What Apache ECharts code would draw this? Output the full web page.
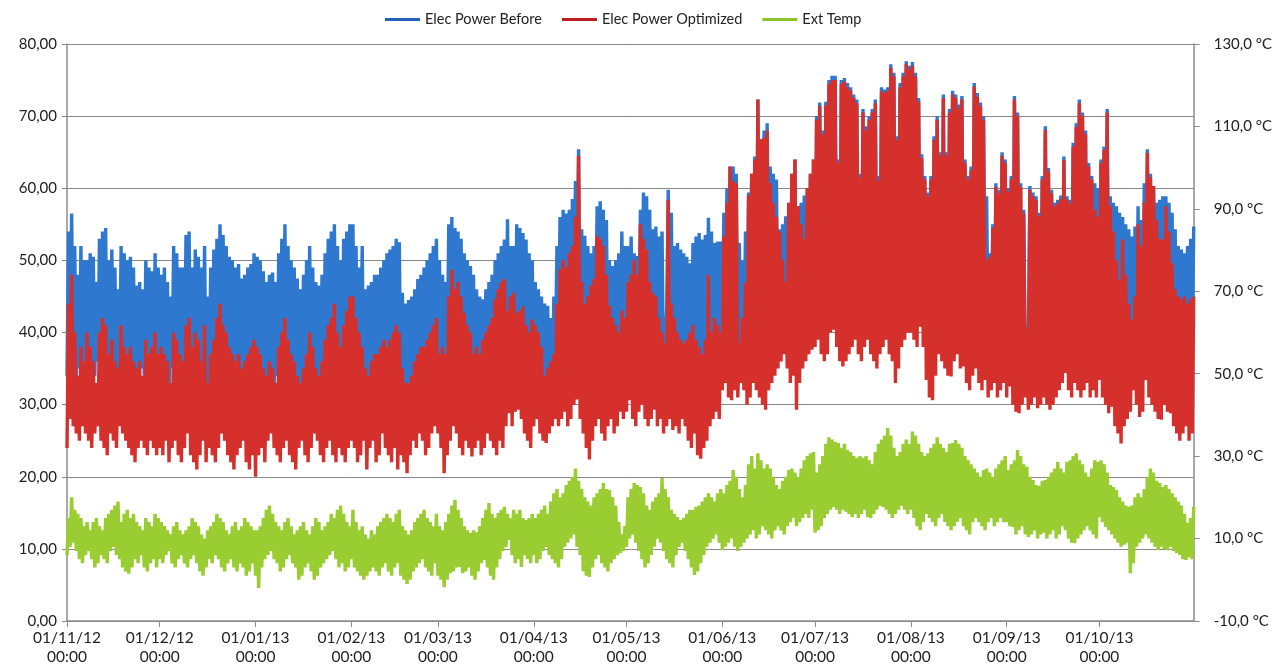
<!DOCTYPE html>
<html>
<head>
<meta charset="utf-8">
<script src="https://cdn.jsdelivr.net/npm/echarts@6/dist/echarts.min.js"></script>
<style>
html,body{margin:0;padding:0;background:#fff;}
#chart{width:1275px;height:666px;}
</style>
</head>
<body>
<div id="chart"></div>
<script>
// ---- Data (daily envelopes, 01/11/12 .. 31/10/13) ----
const startDate = [2012, 10, 1];
const monthTickLabels = ['01/11/12','01/12/12','01/01/13','01/02/13','01/03/13','01/04/13','01/05/13','01/06/13','01/07/13','01/08/13','01/09/13','01/10/13'];
const seriesNames = ['Elec Power Before','Elec Power Optimized','Ext Temp'];

// Elec Power Before: daily high
const beforeHigh = [
54,56.5,52,48,52,50,50,51,50.5,47,53,54,54.5,50,51.5,49,46,52,51,50,50.5,49,46.5,47,46,50,49,48.5,51,49,
48,49,47,45,52,51,49,49,53.5,54,49,51.5,50.5,49,52,45,49,51.5,53,55,53.5,52,50.5,50,49,49.5,47.5,48,49,49.5,51,
50.5,50,48.5,47,48,48.3,47,51,53,55,52,50,49,47.5,46,48,50,52,49,47,46.5,48,51,53,54,55,52,50,53,54,55,
55,52,49,52,46,46.5,47,48,48,49,50,51,51.5,52,53,52.5,45.5,44,44.5,45,46,47.4,48,49,50,51,52,53,
50,48,47,55,56,54.5,54,53,51,50,49.2,48,46,45,44.6,46,47,48,50,51,52,52.9,55.7,52,52,55,54.5,53.8,52.9,51,50,
47,46,45,44,43.7,42,45,52,56,57,56.5,57,58.5,61,65.4,54.3,53.4,52,51,52,57.5,58.2,57,55.6,50,49.2,50,51,54,52,
52,53.3,51,50.6,57,59.4,58.9,57,54.3,54.7,53.3,54,39,59.8,56.6,52,52.4,51.5,51,50.5,49.6,52.4,53.3,53.8,52.9,53.5,55.9,54,52.4,52.6,52.6,
56.6,60,63,63,62,52.4,50,54,59.4,62,64.4,72.3,66.8,68,69,63,62,61.2,54.3,55,56.1,58,62,64,57.5,58,59,60,62,64,
70,71.9,68,72,75,75.6,75.6,64,75,75.3,74.6,74,73,72.3,62,71,68.6,70,71,72.3,61.7,74,73.7,74,77.2,76,67.2,74.6,76,77.6,77,
77.5,76,72.5,64.7,61.7,59.4,61.7,67.2,70,65,73,65,71,73.5,73,71.6,72.8,64,61.7,63,74.6,73.2,71.9,70,58.9,51,55,60.7,59.8,65,64,
60,61.7,72.8,70.5,60.7,57,41,60.3,59.4,58.9,56.6,61.7,68.6,62.8,59.8,58,58.4,59,64.4,58.9,58.4,66.3,69,72.3,70.5,68,63.5,61.7,60.7,60,
64,65.8,71,58.9,58,57.5,56.6,56,55,54.3,53.3,54.7,57.5,55.6,60.7,65.4,62,60.3,58,58.4,58.9,58.9,58,56.6,54.3,52,51.5,51,52,53,54.7
];
// Elec Power Before: daily low
const beforeLow = [
34,36,35,33,35,36,34,33,35,34,36,35,34,33,35,36,34,33,35,34,33,32,34,33,35,34,33,34,35,33,
33,34,33,31,35,34,33,32,35,36,33,34,33,32,34,31,33,34,35,36,35,34,33,32,33,34,32,33,34,33,35,
33,34,32,31,33,33,32,34,35,36,34,33,33,32,31,33,34,35,33,32,31,33,34,35,36,37,34,33,35,36,37,
34,33,32,33,31,30,32,33,33,34,34,33,34,35,35,34,31,30,30,31,32,33,34,33,34,35,35,36,
33,32,31,36,38,37,36,35,34,33,33,32,31,31,30,31,32,33,34,35,36,37,36,35,36,37,37,36,35,34,34,
34,33,32,30,30,31,32,36,39,41,40,42,43,45,48,38,37,36,35,36,41,42,41,39,36,35,35,36,38,37,
36,37,36,35,41,42,40,38,37,37,35,36,33,43,38,36,35,35,34,34,33,35,35,36,35,35,38,36,36,36,35,
40,42,43,42,41,38,37,38,42,43,44,46,45,44,44,43,42,41,40,41,42,43,45,46,42,43,44,45,46,47,
45,46,44,44,46,47,47,44,45,44,45,46,46,47,44,45,46,46,45,45,43,46,46,47,47,46,44,46,47,48,48,
46,46,46,45,43,40,39,40,43,44,44,43,43,43,44,44,44,42,41,41,44,44,42,41,40,38,39,40,40,41,41,
39,40,42,41,39,38,36,39,39,39,38,40,42,41,39,39,39,39,41,40,39,41,42,43,42,41,40,39,38,38,
40,41,42,38,37,36,35,34,35,34,34,35,38,37,38,42,40,39,37,37,37,38,37,36,35,34,34,34,35,35,36
];
// Elec Power Optimized: daily high
const optHigh = [
44,48,40,34,38,36,40,38,36,33,40,42,41,37,39,36,35,41,38,37,38,36,35,36,34,39,37,38,40,37,
38,37,36,33,40,39,37,36,41,42,38,40,39,36,41,33,37,39,42,44,41,40,38,37,36,37,35,36,37,38,39,
38,37,35,34,36,35,33,38,40,42,39,37,36,34,33,35,37,40,38,35,34,36,39,41,42,44,40,38,41,43,45,
45,42,40,38,35,34,36,37,37,38,39,38,39,40,41,40,35,33,33,34,36,37,38,38,39,40,41,42,
37,38,37,45,48.7,46,47,45,42.7,41,40,37,38,37,39,40,41,42,44.6,46,47,47.4,43,45,45.5,42.7,43,43.6,41,40,41.8,
41,40,38,34,35,36,37,44,48.7,50,49,51,52,56,64.5,47,44,45,46.5,47.4,53.4,53,52,48,43.7,42,41,40,43,42,
47,48,50,48,55,53,51.5,47,45.5,45,42,40,38.5,58.4,44,42,40,39,38.5,39,40,41,39,38,37,39,48,40,42,41,40,
53.3,58,63,61,60.7,38.5,42,46.9,59,62,64,72.3,66.8,67,68,60.7,58,56,54,50,47,58,62,64,57.5,55,53,60,62,64,
69.5,71.4,67.5,71.5,74.5,75,75,63.5,74.5,74.8,74,73.5,72.5,71.8,61.5,70.5,68,69.5,70.5,71.8,61,73.5,73.2,73.5,76.7,75.5,66.7,74,75.5,77.2,76.5,
77,75.5,72,64.2,61.2,58.9,61.2,66.7,69.5,64.5,72.5,64.5,70.5,73,72.5,71.1,72.3,63.5,61.2,62.5,74.1,72.7,71.4,69.5,50,50.5,54.5,60.2,59.3,64.5,63.5,
59.5,61.2,72.3,70,60.2,56.5,40.5,59.8,58.9,58.4,56.1,61.2,68.1,62.3,59.3,57.5,57.9,58.5,63.9,58.4,57.9,65.8,68.5,71.8,70,67.5,63,61.2,57,56,
63.5,65.3,70.5,57.5,54,50,47.3,52.9,48,44,41.8,45,55,52,58,64.9,61.5,60.3,55.6,53,52.9,57.5,54,49.6,46,45,44.6,45,44,44.6,45
];
// Elec Power Optimized: daily low
const optLow = [
24,28,27,26,25,27,26,25,24,26,27,25,24,23,26,25,24,27,26,25,24,23,22,24,25,24,23,25,24,23,
24,23,25,22,24,25,23,22,24,26,23,22,21,23,25,22,24,23,22,24,26,25,23,22,21,23,24,25,22,21,23,
20,23,24,22,25,26,24,23,22,24,25,23,22,21,24,25,23,22,24,26,25,23,22,24,25,23,22,24,23,22,24,
25,24,22,23,25,21,24,25,22,23,26,24,23,22,24,21,23,22,20.5,23,25,24,26,25,23,24,26,27,
26,24,20.5,23,25,27,26,24,23,25,24,22.8,24,25,23,24,26,25,24,23,25,24,27,28.8,27,29,29.3,28,26,25,24,
27,28,26,25,24.7,26,27,28,27,28,29,27,28,30,30.7,28,26,24,22.4,25,27,28,26,25,27,28,26,27,29,28,
29,30.6,28,27,29,30,28,27,28,29.3,27,28,26,27,28,26.5,27,26,28,27,25,24,26,23,22.5,24,25,27,28,29,28,
32,33,31,30.6,32,31,33,32,30,31,33,32,31,30,29.3,32,33,34,35,36,37,35,33,34,29.3,33,35,36,37,37.6,
38,39,37,36,37,40,40.4,38,36,35.3,36,37,38,39,37,36,38,39,37,36,35,37,38,39,37,36,33,35,38,39,40,
40,39,38,40.8,38,33.4,31,30.6,34,37,36,35,34,33.9,36,37,35,35.3,33,32,34,35,33,32,33.4,31,32,33,31,32,33,
31,32.5,30,29,28.8,30,31,29.3,30,31,29.5,30,31,30,29.3,30,31,32,33,34.4,32,31,33,32,31,32,33,31,32,31,
33.4,31,30,28.8,29.7,27,26,24.6,27,28,29,32,30,28.3,29,33.4,31,30,29,28,27.9,30,29,28.8,27,26,25,26,27,25,26
];
// Ext Temp (°C): daily high
const tempHigh = [
15,20,17,16,15,13,14,12,14,15,13,12,15,16,17,18,19,14,16,17,15,16,14,13,12,15,14,13,16,15,
14,13,12,11,13,14,12,11,12,13,15,14,13,11,10,12,13,14,16,15,14,12,11,13,14,12,13,15,14,13,12,
12,13,15,17,18,16,14,13,12,14,15,13,11,12,13,14,12,11,13,15,14,12,13,14,16,15,17,18,16,14,13,
17,14,12,13,11,10,12,11,13,14,15,16,15,14,16,17,13,12,11,12,14,15,16,17,15,14,13,16,
13,12,14,16,18,19.4,17,15,13,12,11.4,12,11.5,13,15,17,18.6,16,15,16.2,17,17.7,16,15,17,16,17,15,14.5,15,16,
15,16,17,18,16,19,21,22,20,21,23,24,25,27,24,22,20,19,18,20,21,22,23.5,22,21.8,20,18,14,11,13,
20,22,23.5,23,22.5,21,18,17,19,20,21,24.7,22,20,17,16,15.2,14.5,15,16,17,17,17.7,18,19,20,21,20,19,21,22,
21,23,24,26.6,25,22,20,23,28,30,27,30.7,29,27,28,27,25,23,22,24,25,26.6,27,26,25,27,29,30,30.7,31,
26,28,30,33,34.6,34,33.5,33.2,32,33,31.5,31,30,29.6,30,29.6,30,29,28,31,33,34,35,36.8,35,32,30,31,33,34,33,
36,35,33,31,30,30.7,32,33,34.6,33,32,31,33,33.2,33.9,33,32,30,29,28,27,26,25,26.6,27,26,25,27,28,29,30,
26.6,28,29,31.5,30,28,27.4,25,24.2,23,22.8,24,24.2,25,26,27,28.6,27,26,28.6,29,30,30.7,29,28,26,25,27,29,28.6,
29,28,26,23,22.5,21.8,20,19,18,17.7,18,20,21,20,22,25,27,26,24,23.5,22.5,23,22,21,20,19,18,16,13.8,15,17.7
];
// Ext Temp (°C): daily low
const tempLow = [
6,8,9,7,5,4,6,7,5,3,4,6,5,4,7,8,6,5,3,2,1.5,3,5,4,6,3,2,4,5,3,
5,4,6,7,4,3,5,6,4,3,5,6,4,2,1,3,5,4,6,5,3,2,4,5,3,2,4,3,1,2,4,
1,-2,3,5,6,7,5,4,2,3,5,6,4,3,0,1,3,4,2,0,1,3,4,5,6,7,5,3,4,2,3,
5,3,2,1,0,1,2,3,2,1,3,4,2,1,3,4,1,0,-1,0,2,3,4,5,3,2,1,4,
1,0,-1.8,0,1.6,2,3,3.1,1.6,2,3,1,0,2,4,4.8,3,1,0,3,5,7,8,9.7,6,4,5,3.1,6,5,4,
6,4,5,7,8,6,5,4,3,5,8,9,10,11,8,6,2,1,0.7,3,5,6,4,3,2,4,5,6,6.5,7,
8,10,11,9,7,5,3,4,6,8,10,9,7,5,4,3,6,8,9,7,5,3,1.2,2,4,6,8,9,10,11,9,
7.2,8,9,10,8,7,8,9,10,11,12,10,11,13,12,11,10,12,13,12,11,13,14,15,13,14,15,16,15,17,
11.4,12,13,15,16,17,17.7,17,16,17,16.5,16,15.2,16,15,16,17,15.2,15,16,17,18,17.7,17,16,15,16,17,18,17,16,
17,15,13,12,14,16,15,14,13,15,16,14,13,12,13,14,15,13,12,11,14,15,14,13,12,14,15,13,14,15,14,
14,13,12.8,11,12,13,11,10.4,11,12,10,11,11.4,10,11,12,10,11,13,12,10,9,8.9,10,11,12,13,12,11,10,
15.2,14,12.8,12,11,10,9,8,8.5,9,1.6,4,8,9,10,11,10,9,8,7.2,8,7.5,7.2,8,7,6.5,6,5,4.8,5.5,5
];

// ---- Build categories (two readings per day) and series ----
function pad(n){return (n<10?'0':'')+n;}
const categories = [];
for (let i = 0; i < beforeHigh.length; i++) {
  const d = new Date(Date.UTC(startDate[0], startDate[1], startDate[2] + i));
  const lab = pad(d.getUTCDate()) + '/' + pad(d.getUTCMonth()+1) + '/' + String(d.getUTCFullYear()).slice(2);
  categories.push(lab + '\n00:00', lab + '\n12:00');
}
function zig(lo, hi){const o=[];for(let i=0;i<lo.length;i++){o.push(lo[i],hi[i]);}return o;}
const tickSet = new Set(monthTickLabels.map(s => s + '\n00:00'));
const isTick = (idx, val) => tickSet.has(val);

const FONT = 'Lato';
const LW = 3.4;
const chart = echarts.init(document.getElementById('chart'), null, {renderer:'canvas'});
const lineBase = {type:'line', symbol:'none', showSymbol:false, animation:false, sampling:null, smooth:false};
chart.setOption({
  animation:false,
  backgroundColor:'#ffffff',
  textStyle:{fontFamily:FONT},
  legend:{
    top:7, left:380, itemWidth:35, itemHeight:3, itemGap:20, icon:'rect',
    textStyle:{fontFamily:FONT, fontSize:14.5, color:'#222'},
    data:[
      {name:seriesNames[0], itemStyle:{color:'#1F62B8'}},
      {name:seriesNames[1], itemStyle:{color:'#B81E22'}},
      {name:seriesNames[2], itemStyle:{color:'#8CC22C'}}
    ]
  },
  grid:{left:67, right:81, top:44, bottom:45, containLabel:false},
  xAxis:{
    type:'category', data:categories, boundaryGap:false,
    axisLine:{lineStyle:{color:'#8c8c8c', width:1.5}},
    axisTick:{show:true, interval:isTick, length:6, lineStyle:{color:'#8c8c8c'}},
    axisLabel:{interval:isTick, hideOverlap:false, fontFamily:FONT, fontSize:15.5, color:'#222', margin:7, lineHeight:19},
    splitLine:{show:false}
  },
  yAxis:[
    {type:'value', min:0, max:80, interval:10, position:'left',
     axisLine:{show:true, lineStyle:{color:'#8c8c8c', width:1.5}},
     axisTick:{show:true, length:5, lineStyle:{color:'#8c8c8c'}},
     axisLabel:{fontFamily:FONT, fontSize:15, color:'#222', margin:10, formatter:v => v.toFixed(2).replace('.', ',')},
     splitLine:{show:true, lineStyle:{color:'#8a8a8a', width:1}}
    },
    {type:'value', min:-10, max:130, interval:20, position:'right',
     axisLine:{show:true, lineStyle:{color:'#8c8c8c', width:1.5}},
     axisTick:{show:true, length:6, lineStyle:{color:'#8c8c8c'}},
     axisLabel:{fontFamily:FONT, fontSize:15, color:'#222', margin:20, formatter:v => v.toFixed(1).replace('.', ',') + ' °C'},
     splitLine:{show:false}
    }
  ],
  series:[
    Object.assign({}, lineBase, {name:seriesNames[0], yAxisIndex:0, data:zig(beforeLow, beforeHigh),
      itemStyle:{color:'#2F78D0'}, lineStyle:{color:'#2F78D0', width:LW, join:'bevel'}, z:2}),
    Object.assign({}, lineBase, {name:seriesNames[1], yAxisIndex:0, data:zig(optLow, optHigh),
      itemStyle:{color:'#D6302C'}, lineStyle:{color:'#D6302C', width:LW, join:'bevel'}, z:3}),
    Object.assign({}, lineBase, {name:seriesNames[2], yAxisIndex:1, data:zig(tempLow, tempHigh),
      itemStyle:{color:'#9ACD32'}, lineStyle:{color:'#9ACD32', width:LW, join:'bevel'}, z:4})
  ]
});
</script>
</body>
</html>
